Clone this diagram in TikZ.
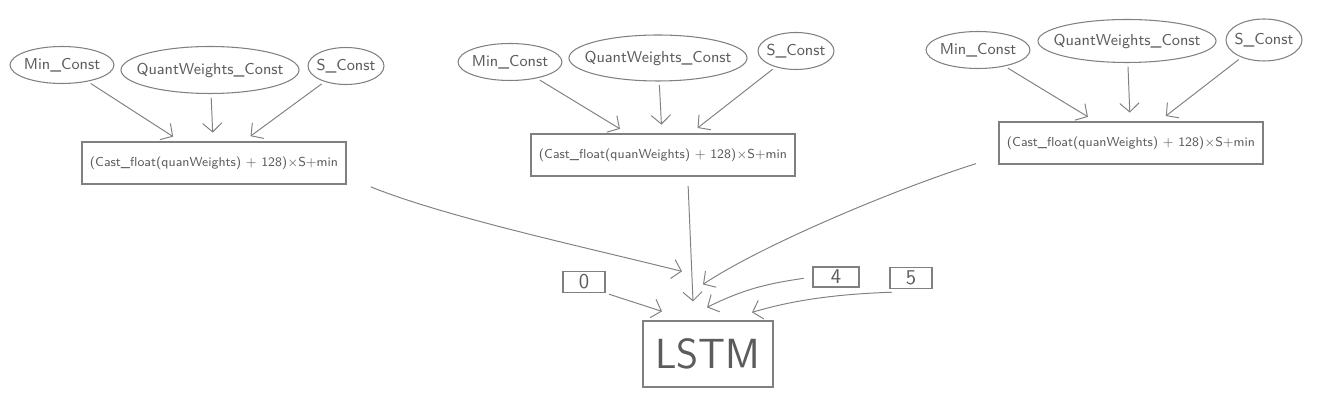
\documentclass[tikz,border=0pt]{standalone}
\usepackage{xcolor}
\usepackage{tikz}
\usetikzlibrary{shapes.geometric, arrows.meta, positioning}

\definecolor{pencil}{HTML}{808080}
\definecolor{pencilink}{HTML}{5C5C5C}

\begin{document}
\begin{tikzpicture}[
  x = 0.02cm, y = -0.02cm,
  every node/.style = {font=\sffamily, text=pencilink},
  const/.style   = {ellipse, draw=pencil, line width=0.6pt, inner xsep=-2pt,
                    minimum height=0.74cm,
                    font=\sffamily\fontsize{9}{10}\selectfont},
  dequant/.style = {rectangle, draw=pencil, line width=0.7pt,
                    minimum width=5.28cm, minimum height=0.84cm,
                    font=\sffamily\fontsize{7.4}{9}\selectfont},
  index/.style   = {rectangle, draw=pencil, line width=0.7pt, inner sep=0pt,
                    minimum width=0.84cm, minimum height=0.42cm,
                    font=\sffamily\fontsize{12}{12}\selectfont},
  op/.style      = {rectangle, draw=pencil, line width=0.7pt,
                    minimum width=2.6cm, minimum height=1.32cm,
                    font=\sffamily\fontsize{24}{24}\selectfont},
  arrow/.style   = {draw=pencil, line width=0.55pt,
                    -{Straight Barb[length=5pt,width=11pt]},
                    shorten >=5pt, shorten <=2pt}
]
\useasboundingbox (0,0) rectangle (1330,418);

% --- first group (left) ---
\node[const, minimum width=2.08cm]                 (min1) at (62,65)  {Min\_Const};
\node[const, inner xsep=-6pt, minimum height=0.94cm] (qw1) at (210,70) {QuantWeights\_Const};
\node[const, minimum width=1.52cm]                 (s1)   at (346,66) {S\_Const};
\node[dequant] (box1) at (214,163) {(Cast\_float(quanWeights) + 128)$\times$S+min};

% --- second group (middle) ---
\node[const, minimum width=2.08cm]                 (min2) at (510,62) {Min\_Const};
\node[const, inner xsep=-6pt, minimum height=0.92cm] (qw2) at (658,58) {QuantWeights\_Const};
\node[const, minimum width=1.52cm]                 (s2)   at (796,51) {S\_Const};
\node[dequant] (box2) at (663,155) {(Cast\_float(quanWeights) + 128)$\times$S+min};

% --- third group (right) ---
\node[const, minimum width=2.08cm]                 (min3) at (978,50)  {Min\_Const};
\node[const, inner xsep=-6pt, minimum height=0.86cm] (qw3) at (1127,41) {QuantWeights\_Const};
\node[const, minimum width=1.52cm, minimum height=0.84cm] (s3) at (1264,40) {S\_Const};
\node[dequant] (box3) at (1131,143) {(Cast\_float(quanWeights) + 128)$\times$S+min};

% --- LSTM and its index inputs ---
\node[op]    (lstm) at (708,354) {LSTM};
\node[index] (zero) at (584,282) {0};
\node[index, minimum width=0.92cm, minimum height=0.4cm] (four) at (836,277) {4};
\node[index] (five) at (911,278) {5};

% free ends above the LSTM box
\coordinate (in1) at ([shift={(-26,-49)}]lstm.north);
\coordinate (in2) at ([shift={(-15,-19)}]lstm.north);
\coordinate (in3) at ([shift={(-5,-36)}]lstm.north);
\coordinate (in0) at ([shift={(-46,-9)}]lstm.north);
\coordinate (in4) at ([shift={(-1,-13)}]lstm.north);
\coordinate (in5) at ([shift={(44,-8)}]lstm.north);

% --- Arrows ---
\draw[arrow] (min1) -- (box1);
\draw[arrow] (qw1)  -- (box1);
\draw[arrow] (s1)   -- (box1);
\draw[arrow] (min2) -- (box2);
\draw[arrow] (qw2)  -- (box2);
\draw[arrow] (s2)   -- (box2);
\draw[arrow] (min3) -- (box3);
\draw[arrow] (qw3)  -- (box3);
\draw[arrow] (s3)   -- (box3);

% dequantised weights -> LSTM
\draw[arrow, shorten >=0pt] ([shift={(21,1)}]box1.south east)
  .. controls +(80,32) and +(-100,-25) .. (in1);
\draw[arrow, shorten >=0pt] ([shift={(25,6)}]box2.south) -- (in2);
\draw[arrow, shorten >=0pt] ([shift={(-19,-2)}]box3.south west)
  .. controls +(-80,25) and +(60,-40) .. (in3);

% index inputs -> LSTM
\draw[arrow, shorten >=0pt] (zero.south east) -- (in0);
\draw[arrow, shorten >=0pt, shorten <=5pt] (four.west)
  .. controls +(-40,6) and +(40,-20) .. (in4);
\draw[arrow, shorten >=0pt] ([shift={(6,3)}]five.south west)
  .. controls +(-60,2) and +(40,-12) .. (in5);

\end{tikzpicture}
\end{document}
